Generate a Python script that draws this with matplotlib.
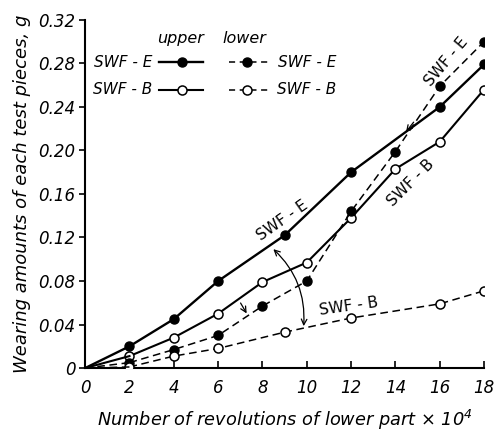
import matplotlib.pyplot as plt

plt.rcParams['font.family'] = 'DejaVu Sans'
plt.rcParams['font.style'] = 'italic'

# upper part
up_e_x = [0, 2, 4, 6, 9, 12, 16, 18]
up_e_y = [0, 0.020, 0.045, 0.080, 0.122, 0.180, 0.240, 0.279]
up_b_x = [0, 2, 4, 6, 8, 10, 12, 14, 16, 18]
up_b_y = [0, 0.011, 0.028, 0.050, 0.079, 0.097, 0.138, 0.183, 0.208, 0.256]
# lower part
lo_e_x = [0, 2, 4, 6, 8, 10, 12, 14, 16, 18]
lo_e_y = [0, 0.005, 0.017, 0.030, 0.057, 0.080, 0.144, 0.199, 0.259, 0.300]
lo_b_x = [0, 2, 4, 6, 9, 12, 16, 18]
lo_b_y = [0, 0.001, 0.011, 0.018, 0.033, 0.046, 0.059, 0.071]

xticks = [0, 2, 4, 6, 8, 10, 12, 14, 16, 18]
yticks = [0, 0.04, 0.08, 0.12, 0.16, 0.20, 0.24, 0.28, 0.32]
ytick_labels = ['0', '0.04', '0.08', '0.12', '0.16', '0.20', '0.24', '0.28', '0.32']

fig = plt.figure(figsize=(4.98, 4.32), dpi=100)
ax = fig.add_axes([0.171, 0.148, 0.801, 0.806])

ms = 6.5
dash = (5, 3)
ax.plot(up_e_x[1:], up_e_y[1:], '-', color='k', lw=1.7, marker='o', ms=ms,
        mfc='k', mec='k', zorder=3)
ax.plot(up_e_x[:2], up_e_y[:2], '-', color='k', lw=1.7, zorder=3)
ax.plot(up_b_x[1:], up_b_y[1:], '-', color='k', lw=1.5, marker='o', ms=ms,
        mfc='white', mec='k', mew=1.1, zorder=3)
ax.plot(up_b_x[:2], up_b_y[:2], '-', color='k', lw=1.5, zorder=3)
ax.plot(lo_e_x[1:], lo_e_y[1:], '--', color='k', lw=1.1, dashes=dash,
        marker='o', ms=ms, mfc='k', mec='k', zorder=3)
ax.plot(lo_e_x[:2], lo_e_y[:2], '--', color='k', lw=1.1, dashes=dash, zorder=3)
ax.plot(lo_b_x[1:], lo_b_y[1:], '--', color='k', lw=1.1, dashes=dash,
        marker='o', ms=ms, mfc='white', mec='k', mew=1.1, zorder=3)
ax.plot(lo_b_x[:2], lo_b_y[:2], '--', color='k', lw=1.1, dashes=dash, zorder=3)

ax.set_xlim(0, 18)
ax.set_ylim(0, 0.32)
ax.set_xticks(xticks)
ax.set_xticklabels([str(t) for t in xticks], fontsize=12)
ax.set_yticks(yticks)
ax.set_yticklabels(ytick_labels, fontsize=12)
ax.tick_params(axis='x', direction='in', length=5, width=1.2, pad=8)
ax.tick_params(axis='y', direction='out', length=4, width=1.2, pad=3)
for s in ['top', 'right']:
    ax.spines[s].set_visible(False)
for s in ['left', 'bottom']:
    ax.spines[s].set_linewidth(1.5)

ax.set_xlabel('Number of revolutions of lower part \u00d7 10$^{4}$',
              fontsize=12.8, labelpad=8)
ax.set_ylabel('Wearing amounts of each test pieces, g', fontsize=13,
              labelpad=5)

# legend drawn by hand
ax.text(4.3, 0.303, 'upper', fontsize=11.5, ha='center', va='center')
ax.text(7.2, 0.303, 'lower', fontsize=11.5, ha='center', va='center')
ax.text(1.7, 0.281, 'SWF - E', fontsize=11, ha='center', va='center')
ax.text(1.7, 0.256, 'SWF - B', fontsize=11, ha='center', va='center')
ax.text(10.0, 0.281, 'SWF - E', fontsize=11, ha='center', va='center')
ax.text(10.0, 0.256, 'SWF - B', fontsize=11, ha='center', va='center')
ax.plot([3.35, 5.3], [0.281, 0.281], '-', color='k', lw=1.7)
ax.plot([4.35], [0.281], 'o', color='k', ms=ms)
ax.plot([3.35, 5.3], [0.256, 0.256], '-', color='k', lw=1.5)
ax.plot([4.35], [0.256], 'o', mfc='white', mec='k', mew=1.1, ms=ms)
ax.plot([6.5, 8.3], [0.281, 0.281], '--', color='k', lw=1.1, dashes=(4, 3))
ax.plot([7.3], [0.281], 'o', color='k', ms=ms)
ax.plot([6.5, 8.3], [0.256, 0.256], '--', color='k', lw=1.1, dashes=(4, 3))
ax.plot([7.3], [0.256], 'o', mfc='white', mec='k', mew=1.1, ms=ms)

# curve labels
ax.text(8.9, 0.136, 'SWF - E', fontsize=11, style='normal', rotation=35,
        ha='center', va='center')
ax.text(11.9, 0.057, 'SWF - B', fontsize=11, style='normal', rotation=8,
        ha='center', va='center')
ax.text(14.7, 0.170, 'SWF - B', fontsize=11, style='normal', rotation=45,
        ha='center', va='center')
ax.text(16.3, 0.282, 'SWF - E', fontsize=11, style='normal', rotation=50,
        ha='center', va='center')

# arrows
ax.annotate('', xy=(8.4, 0.111), xytext=(9.85, 0.036),
            arrowprops=dict(arrowstyle='<->', color='k', lw=0.9,
                            connectionstyle='arc3,rad=0.25'))
ax.annotate('', xy=(7.35, 0.048), xytext=(6.95, 0.062),
            arrowprops=dict(arrowstyle='->', color='k', lw=0.9))
ax.annotate('', xy=(14.4, 0.215), xytext=(14.9, 0.228),
            arrowprops=dict(arrowstyle='->', color='k', lw=0.9))

fig.savefig('out.png', dpi=100)
